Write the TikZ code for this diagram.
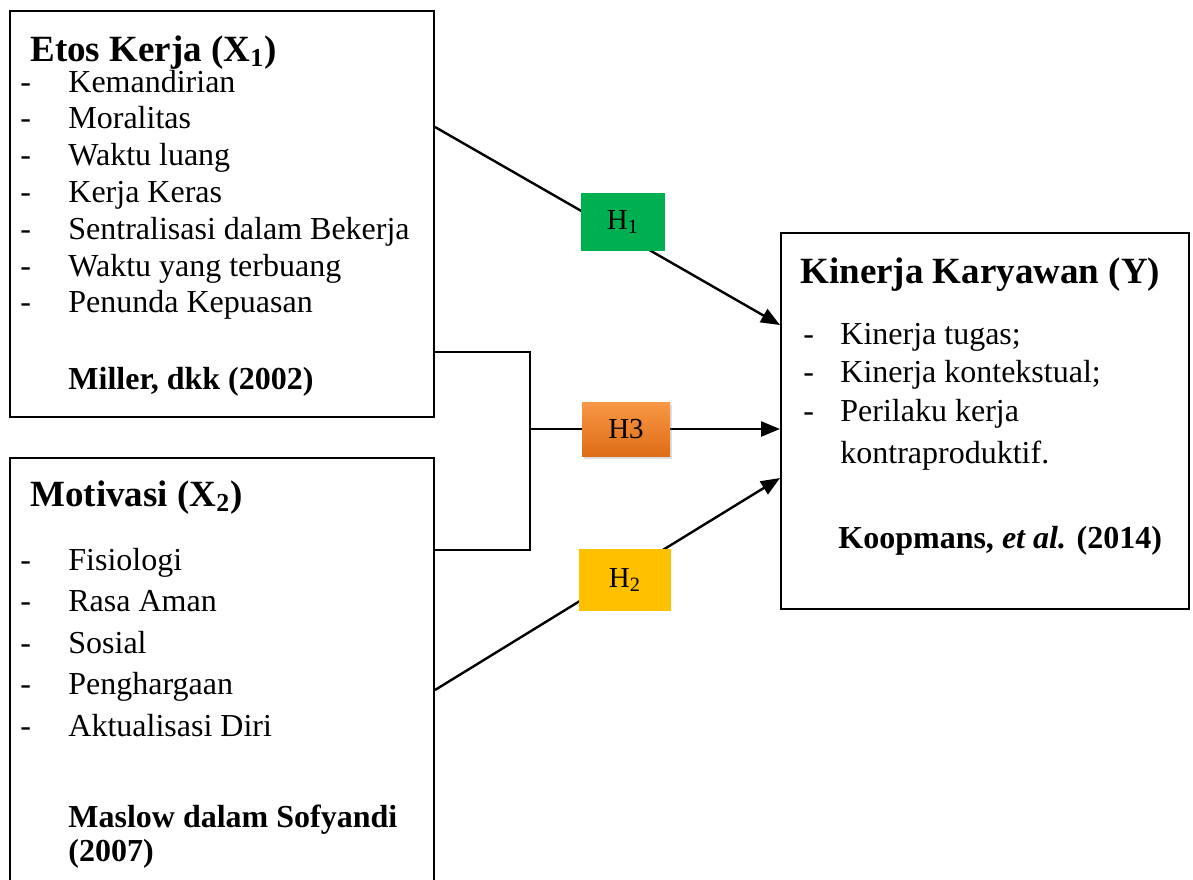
\documentclass[tikz,border=0pt]{standalone}
\usepackage{fontspec}
\setmainfont{Liberation Serif}
\usepackage{xcolor}
\usepackage{tikz}
\usetikzlibrary{arrows.meta,shadows,backgrounds}
\definecolor{hgreen}{RGB}{0,176,80}
\definecolor{horangelight}{RGB}{248,152,70}
\definecolor{horangedark}{RGB}{222,108,22}
\definecolor{hyellow}{RGB}{255,192,0}

\begin{document}
\begin{tikzpicture}[
    x=0.5pt, y=-0.5pt,
    varbox/.style={rectangle, draw, line width=1pt, anchor=north west, inner sep=0pt},
    hypbox/.style={rectangle, fill=#1, minimum width=42pt, minimum height=29pt, inner sep=0pt, font=\fontsize{14.5}{16}\selectfont},
    vartitle/.style={anchor=base west, inner sep=0pt, font=\fontsize{18.5}{22}\selectfont\bfseries},
    item/.style={anchor=base west, inner sep=0pt, font=\fontsize{16}{18}\selectfont},
    source/.style={anchor=base west, inner sep=0pt, font=\fontsize{16}{18}\selectfont\bfseries},
    arrow/.style={-{Triangle[length=9.5pt, width=7.5pt]}, line width=1.2pt},
]
    \useasboundingbox (0,0) rectangle (1193,879);

    % Variable boxes
    \node[varbox, minimum width=212pt, minimum height=203pt] (etos) at (9,10) {};
    \node[varbox, minimum width=212pt, minimum height=230pt] (motiv) at (9,457) {};
    \node[varbox, minimum width=204pt, minimum height=188pt] (kinerja) at (780,232) {};

    % Etos Kerja (X1)
    \node[vartitle] (etos_title) at (30,61) {Etos Kerja (X\textsubscript{1})};
    \foreach \txt [count=\i from 0] in {Kemandirian, Moralitas, Waktu luang, Kerja Keras, Sentralisasi dalam Bekerja, Waktu yang terbuang, Penunda Kepuasan} {
        \node[item] (etos_dash\i) at (20, 92+36.8*\i) {-};
        \node[item] (etos_item\i) at (68, 92+36.8*\i) {\txt};
    }
    \node[source] (etos_src) at (68,389) {Miller, dkk (2002)};

    % Motivasi (X2)
    \node[vartitle] (motiv_title) at (30,506) {Motivasi (X\textsubscript{2})};
    \foreach \txt [count=\i from 0] in {Fisiologi, Rasa Aman, Sosial, Penghargaan, Aktualisasi Diri} {
        \node[item] (motiv_dash\i) at (20, 570+41.5*\i) {-};
        \node[item] (motiv_item\i) at (68, 570+41.5*\i) {\txt};
    }
    \node[source] (motiv_src1) at (68,827) {Maslow dalam Sofyandi};
    \node[source] (motiv_src2) at (68,861) {(2007)};

    % Kinerja Karyawan (Y)
    \node[vartitle] (kin_title) at (800,283) {Kinerja Karyawan (Y)};
    \foreach \txt [count=\i from 0] in {Kinerja tugas;, Kinerja kontekstual;, Perilaku kerja} {
        \node[item] (kin_dash\i) at (803, 344+38.5*\i) {-};
        \node[item] (kin_item\i) at (840, 344+38.5*\i) {\txt};
    }
    \node[item] (kin_item3) at (840,463) {kontraproduktif.};
    \node[source] (kin_src) at (838,548) {Koopmans, \textit{et al.} (2014)};

    % Hypotheses
    \node[hypbox=hgreen] (h1) at (623,222) {H\textsubscript{1}};
    \node[hypbox=hyellow, minimum width=46pt, minimum height=31pt] (h2) at (625,580) {H\textsubscript{2}};
    \node[hypbox=horangedark, top color=horangelight, bottom color=horangedark, minimum width=44pt, minimum height=27pt,
          drop shadow={shadow xshift=1pt, shadow yshift=-1.5pt, opacity=0.25}] (h3) at (626,429) {H3};
    \coordinate (join) at (530,429);

    % Connectors
    \begin{scope}[on background layer]
        \draw[arrow] (etos.east |- 0,127) -- (kinerja.west |- 0,325);
        \draw[arrow] (motiv.east |- 0,690) -- (kinerja.west |- 0,478);
        \draw[line width=1pt] (etos.east |- 0,352) -| (join) |- (motiv.east |- 0,550);
        \draw[arrow] (join) -- (kinerja.west |- 0,429);
    \end{scope}
\end{tikzpicture}
\end{document}
